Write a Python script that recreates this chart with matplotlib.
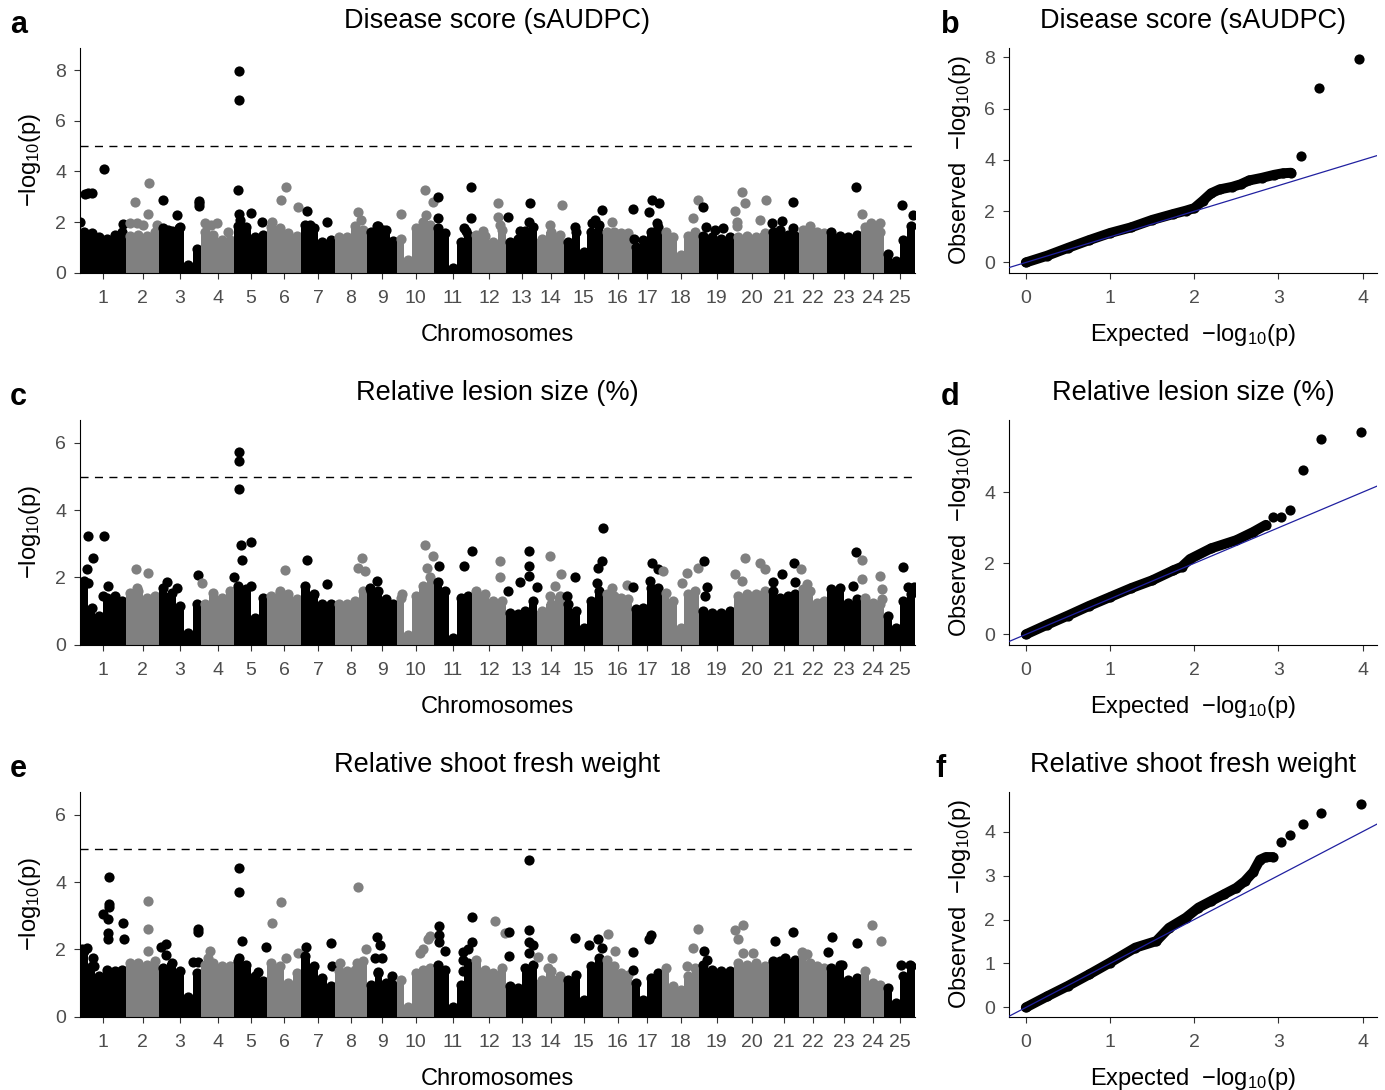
import numpy as np
import matplotlib.pyplot as plt

plt.rcParams['font.family'] = ['Liberation Sans', 'DejaVu Sans']
plt.rcParams['mathtext.fontset'] = 'custom'
plt.rcParams['mathtext.rm'] = 'Liberation Sans'
plt.rcParams['mathtext.it'] = 'Liberation Sans'

# =========================
# Data
# =========================
# chromosome lengths (Mb, read from the spacing of the colour blocks)
chr_len = [46, 33, 42, 33, 33, 34, 34, 32, 30, 37, 38, 34, 31, 27, 39,
           29, 30, 37, 35, 35, 30, 28, 34, 23, 31]
chr_names = [str(i) for i in range(1, 26)]

# dense background of each chromosome: -log10(p) top of the point mass,
# evenly spaced along the chromosome
a_cols = [
    [1.6, 1.55, 1.4, 1.35, 1.5, 1.6], [1.45, 1.5, 1.45, 1.6],
    [1.75, 1.65, 1.8, 0.3, 0.95], [1.6, 1.5, 1.3, 1.3],
    [1.85, 1.8, 1.4, 1.5], [1.8, 1.75, 1.55, 1.45], [1.9, 1.75, 1.2, 1.3],
    [1.4, 1.4, 1.85, 1.7], [1.6, 1.85, 1.7, 1.25],
    [1.35, 0.5, 1.75, 2.0, 1.9], [1.75, 1.55, 0.2, 1.2, 1.5],
    [1.5, 1.45, 1.2, 1.7], [1.2, 1.35, 1.65, 1.8], [1.35, 1.6, 1.5],
    [1.2, 1.6, 0.8, 1.6, 1.9], [1.6, 1.6, 1.55, 1.55], [1.0, 1.3, 1.6, 1.8],
    [1.6, 1.4, 0.7, 1.45, 1.6], [1.45, 1.4, 1.35, 1.4],
    [1.4, 1.45, 1.4, 1.55], [1.6, 1.7, 1.5, 1.45], [1.7, 1.85, 1.6, 1.55],
    [1.6, 1.45, 1.4, 1.5], [1.8, 1.75, 1.6], [0.75, 0.45, 1.3, 1.85],
]
c_cols = [
    [1.9, 1.1, 0.85, 1.4, 1.45, 1.3], [1.55, 1.6, 1.4, 1.45],
    [1.7, 1.55, 1.15, 0.35, 1.2], [1.2, 1.55, 1.4, 1.6],
    [1.75, 1.65, 0.8, 1.4], [1.45, 1.55, 1.5, 1.35], [1.75, 1.5, 1.2, 1.2],
    [1.2, 1.2, 1.3, 1.6], [1.6, 1.6, 1.35, 1.2],
    [1.4, 0.3, 1.45, 1.75, 2.0], [1.85, 1.6, 0.2, 1.4, 1.45],
    [1.6, 1.5, 1.3, 1.3], [0.95, 0.9, 1.0, 1.3], [1.0, 1.2, 1.45],
    [1.2, 1.0, 0.5, 1.3, 1.6], [1.5, 1.45, 1.4, 1.35], [1.05, 1.1, 1.7, 1.7],
    [1.55, 1.3, 0.5, 1.5, 1.6], [1.0, 0.95, 0.95, 1.0],
    [1.45, 1.5, 1.5, 1.6], [1.6, 1.4, 1.45, 1.5], [1.65, 1.6, 1.25, 1.3],
    [1.65, 1.7, 1.25, 1.35], [1.4, 1.25, 1.2], [0.85, 0.5, 1.3, 1.5],
]
e_cols = [
    [1.95, 1.5, 1.2, 1.4, 1.35, 1.4], [1.6, 1.6, 1.55, 1.65],
    [1.45, 1.6, 1.35, 0.6, 1.3], [1.55, 1.6, 1.5, 1.5],
    [1.65, 1.55, 1.2, 1.05], [1.6, 1.5, 1.0, 1.3], [1.8, 1.5, 1.15, 0.9],
    [1.35, 1.35, 1.4, 1.65], [0.95, 1.3, 1.0, 0.95],
    [1.1, 0.3, 1.3, 1.4, 1.45], [1.55, 1.4, 0.3, 0.95, 1.6],
    [1.7, 1.4, 1.3, 1.45], [0.9, 0.85, 1.45, 1.55], [1.1, 1.35, 1.2],
    [1.1, 1.25, 0.5, 1.5, 1.75], [1.7, 1.5, 1.3, 1.25], [1.0, 0.5, 1.15, 1.3],
    [1.45, 0.9, 0.8, 1.2, 1.45], [1.55, 1.4, 1.35, 1.35],
    [1.6, 1.55, 1.6, 1.5], [1.65, 1.65, 1.6, 1.7], [1.8, 1.6, 1.5, 1.45],
    [1.45, 1.55, 1.1, 1.15], [1.35, 1.0, 0.95], [0.85, 0.4, 1.2, 1.5],
]

# single markers standing above the mass: (genome position Mb, -log10 p)
a_hits = [
    (0, 2.0), (5, 3.1), (8, 3.15), (12, 3.15), (24, 4.1), (42.7, 1.92),
    (50, 1.95), (55, 2.8), (57, 1.95), (63, 1.9), (68.3, 2.3), (69, 3.53),
    (76.7, 1.88), (83.3, 2.87), (88, 1.7), (96.7, 2.28), (99, 1.75),
    (118.8, 2.85), (118.8, 2.75), (118.8, 2.62), (125, 1.95), (131, 1.9),
    (137, 1.95), (148, 1.6), (158.3, 3.25), (159.3, 7.95), (159.3, 6.8),
    (159, 2.3), (160, 2.1), (170.7, 2.37), (181.7, 2.0), (192, 2.0),
    (201, 2.87), (205.7, 3.4), (218.3, 2.6), (226.7, 2.43), (230, 1.9),
    (247.3, 2.0), (278, 2.4), (281, 2.08), (297, 1.85), (303, 1.7),
    (321, 2.3), (345, 3.26), (346, 2.28), (353, 2.8), (358, 3.0),
    (358, 2.15), (384, 1.75), (386, 1.65), (391.3, 3.4), (391.3, 2.15),
    (418, 2.75), (418, 2.2), (420, 1.9), (403, 1.65), (428.3, 2.2),
    (450, 2.74), (448.5, 2.0), (440, 1.65), (481.7, 2.67), (470, 1.9),
    (495, 1.8), (511.7, 1.95), (515, 2.1), (521.7, 2.47), (531.7, 2.0),
    (553.3, 2.5), (554, 1.35), (569.3, 2.4), (571.7, 2.87), (579.3, 2.74),
    (577, 1.97), (613.3, 2.15), (617.7, 2.87), (623.3, 2.6), (625.5, 1.8),
    (635, 1.7), (643, 1.78), (655, 2.45), (657, 2.0), (657, 1.85),
    (662.3, 3.17), (665, 2.76), (680, 2.08), (685.7, 2.87), (692, 1.95),
    (702, 2.04), (713.3, 2.8), (713.3, 1.78), (775.7, 3.39), (781.5, 2.3),
    (791, 1.97), (800, 1.97), (821.7, 2.67), (833.3, 2.28),
]
c_hits = [
    (7.7, 3.24), (24.3, 3.24), (12.7, 2.58), (7.3, 2.24), (8, 1.84),
    (23.3, 1.45), (28.3, 1.75), (55.7, 2.25), (68.3, 2.14), (57, 1.7),
    (86.7, 1.85), (96.7, 1.7), (118.3, 2.06), (122, 1.82), (159, 5.74),
    (159, 5.47), (159, 4.62), (161, 2.97), (171, 3.04), (161.7, 2.53),
    (154.3, 2.0), (170.7, 1.75), (205, 2.22), (200, 1.6), (226.7, 2.53),
    (247.3, 1.8), (233, 1.45), (281.7, 2.58), (278, 2.28), (285, 2.19),
    (296.7, 1.9), (290, 1.7), (321.7, 1.5), (345, 2.97), (352.7, 2.63),
    (346.7, 2.28), (359.3, 2.35), (384.3, 2.35), (391.5, 2.8), (420, 2.48),
    (420, 2.0), (428.3, 1.6), (440, 1.86), (449.3, 2.78), (449.3, 2.35),
    (449.3, 2.04), (456.5, 1.72), (470, 2.65), (481, 2.09), (475, 1.75),
    (470, 1.45), (495, 2.0), (486.7, 1.45), (521.7, 2.48), (518.3, 2.28),
    (516.7, 1.84), (522.8, 3.47), (531.7, 1.7), (546.7, 1.77), (553.3, 1.72),
    (571.7, 2.43), (578.3, 2.24), (570, 1.9), (582.5, 2.19), (606.7, 2.14),
    (617.7, 2.28), (602, 1.84), (624.3, 2.48), (626.7, 1.72), (625, 1.45),
    (654.5, 2.09), (665, 2.58), (662.3, 1.9), (680, 2.43), (685, 2.24),
    (692.7, 1.86), (701.7, 2.09), (714, 2.43), (715, 1.86), (720.5, 2.24),
    (727, 1.8), (776, 2.75), (773.3, 1.75), (781.5, 2.53), (782, 1.96),
    (800, 2.04), (801.7, 1.65), (801.7, 1.35), (822.7, 2.3), (828.3, 1.72),
    (834, 1.72),
]
e_hits = [
    (2, 2.0), (7.3, 2.03), (13.3, 1.75), (14, 1.5), (29.3, 4.16),
    (29.3, 3.35), (29.3, 3.25), (23.3, 3.06), (28.3, 2.9), (28.3, 2.5),
    (28.3, 2.3), (42.7, 2.8), (44.3, 2.3), (68.3, 3.45), (68.3, 2.62),
    (68.3, 1.96), (81, 2.08), (85.7, 2.15), (85.7, 1.83), (118.3, 2.62),
    (118.3, 2.52), (113.3, 1.64), (118, 1.64), (130, 1.96), (128.3, 1.74),
    (159, 4.43), (159, 3.72), (161.7, 2.25), (159, 1.75), (177.7, 1.34),
    (185.7, 2.08), (191.7, 2.8), (201, 3.4), (205.7, 1.75), (217.7, 1.88),
    (226, 2.08), (250.7, 2.2), (251.5, 1.5), (277.7, 3.87), (276.7, 1.6),
    (260, 1.6), (285.5, 2.0), (296.7, 2.37), (300, 2.13), (295, 1.74),
    (302, 1.74), (298, 1.34), (311.7, 1.2), (340, 1.9), (343, 2.0),
    (348, 2.3), (350, 2.4), (359, 2.7), (359.3, 2.42), (359, 2.23),
    (365, 1.96), (383.3, 1.93), (383.3, 1.7), (383.3, 1.35), (387.7, 2.0),
    (391.5, 2.96), (391.5, 2.23), (414.5, 2.85), (425, 2.5), (429, 2.52),
    (429, 1.8), (449.3, 4.66), (449.3, 2.57), (449.3, 2.23), (453.3, 2.13),
    (449.3, 1.88), (458.3, 1.78), (471.7, 1.75), (467.7, 1.45), (495, 2.35),
    (509.3, 2.13), (518.3, 2.3), (521.7, 2.03), (528.3, 2.47), (535, 1.96),
    (553.3, 1.93), (552.5, 1.39), (571, 2.42), (569, 2.3), (618.3, 2.62),
    (613.3, 2.03), (606.7, 1.5), (624, 1.95), (627, 1.7), (655, 2.57),
    (663.3, 2.72), (657.7, 2.3), (663.3, 1.88), (673.3, 1.88), (695, 2.25),
    (713.3, 2.52), (705, 1.75), (721.7, 1.93), (726.7, 1.85), (752.3, 2.37),
    (748.3, 1.93), (776.7, 2.2), (762, 1.55), (791.7, 2.74), (800.7, 2.25),
    (821, 1.55), (830, 1.55),
]

# QQ plots: dense part (expected, observed) and the separated tail points
b_band_exp = [0.0, 0.25, 0.5, 0.75, 1.0, 1.25, 1.5, 1.75, 1.9, 2.0, 2.1,
              2.2, 2.3, 2.45, 2.55, 2.65, 2.8, 2.95, 3.05, 3.15]
b_band_obs = [0.0, 0.26, 0.57, 0.87, 1.15, 1.37, 1.66, 1.89, 2.02, 2.12,
              2.4, 2.7, 2.85, 2.95, 3.05, 3.2, 3.3, 3.42, 3.48, 3.5]
b_tail_exp = [3.27, 3.48, 3.96]
b_tail_obs = [4.15, 6.82, 7.95]

d_band_exp = [0.0, 0.25, 0.5, 0.75, 1.0, 1.25, 1.5, 1.75, 1.85, 1.95, 2.2,
              2.5, 2.7, 2.85]
d_band_obs = [0.0, 0.27, 0.53, 0.8, 1.05, 1.3, 1.52, 1.8, 1.9, 2.12, 2.42,
              2.65, 2.88, 3.08]
d_tail_exp = [2.93, 3.03, 3.14, 3.29, 3.5, 3.98]
d_tail_obs = [3.3, 3.3, 3.51, 4.62, 5.49, 5.7]

f_band_exp = [0.0, 0.25, 0.5, 0.75, 1.0, 1.3, 1.55, 1.7, 1.9, 2.05, 2.2,
              2.35, 2.5, 2.6, 2.7, 2.78, 2.85, 2.93]
f_band_obs = [0.0, 0.25, 0.49, 0.75, 1.02, 1.36, 1.51, 1.81, 2.04, 2.27,
              2.42, 2.57, 2.72, 2.87, 3.08, 3.36, 3.42, 3.42]
f_tail_exp = [3.03, 3.14, 3.29, 3.5, 3.98]
f_tail_obs = [3.76, 3.92, 4.18, 4.42, 4.63]

titles = ["Disease score (sAUDPC)", "Relative lesion size (%)",
          "Relative shoot fresh weight"]
threshold = 5

# =========================
# Style
# =========================
W, H = 1385, 1090
colours = ['#000000', '#808080']
blue = '#2020a0'
ms = 54
tick_kw = dict(length=4, width=0.8, color='#333333', labelcolor='#4d4d4d',
               labelsize=14)
logp = r'$-\mathrm{log}_{10}(\mathrm{p})$'


def box(l, t, r, b):
    return [l / W, 1 - b / H, (r - l) / W, (b - t) / H]


def fx(x):
    return x / W


def fy(y):
    return 1 - y / H


def manhattan(ax, cols, hits, top, yticks):
    starts = np.concatenate([[0], np.cumsum(chr_len)[:-1]])
    ends = np.cumsum(chr_len)
    hx = np.array([p[0] for p in hits])
    hy = np.array([p[1] for p in hits])
    which = np.searchsorted(ends, hx, side='right')
    for k, (s, L, h) in enumerate(zip(starts, chr_len, cols)):
        c = colours[k % 2]
        w = L / len(h)
        xs = s + w * (np.arange(len(h)) + 0.5)
        ax.bar(xs, h, width=w, color=c, linewidth=0)
        ax.scatter(xs, h, s=ms, color=c, linewidths=0)
        sel = which == k
        ax.scatter(hx[sel], hy[sel], s=ms, color=c, linewidths=0)
    ax.axhline(threshold, color='black', lw=1, ls=(0, (5.8, 4.6)))
    ax.set_xlim(0, ends[-1])
    ax.set_ylim(0, top)
    ax.set_xticks(starts + np.array(chr_len) / 2)
    ax.set_xticklabels(chr_names)
    ax.set_yticks(yticks)
    ax.spines[['top', 'right']].set_visible(False)
    ax.tick_params(**tick_kw)
    ax.tick_params(axis='x', pad=8.5)
    ax.tick_params(axis='y', pad=6)


def qq(ax, bx, by, tx, ty, ylim, yticks):
    ax.plot(bx, by, color='black', lw=7.2, solid_capstyle='round')
    ax.scatter(bx, by, s=ms, color='black', linewidths=0)
    ax.scatter(tx, ty, s=ms, color='black', linewidths=0)
    ax.plot([-1, 6], [-1, 6], color=blue, lw=0.9, zorder=5)
    ax.set_xlim(-0.2, 4.17)
    ax.set_ylim(*ylim)
    ax.set_xticks([0, 1, 2, 3, 4])
    ax.set_yticks(yticks)
    ax.spines[['top', 'right']].set_visible(False)
    ax.tick_params(**tick_kw)
    ax.tick_params(axis='x', pad=8.5)
    ax.tick_params(axis='y', pad=6)


fig = plt.figure(figsize=(W / 100, H / 100), dpi=100)

rows = [
    (a_cols, a_hits, 8.87, [0, 2, 4, 6, 8],
     b_band_exp, b_band_obs, b_tail_exp, b_tail_obs, (-0.4, 8.37),
     [0, 2, 4, 6, 8], 'a', 'b'),
    (c_cols, c_hits, 6.68, [0, 2, 4, 6],
     d_band_exp, d_band_obs, d_tail_exp, d_tail_obs, (-0.29, 6.03),
     [0, 2, 4], 'c', 'd'),
    (e_cols, e_hits, 6.68, [0, 2, 4, 6],
     f_band_exp, f_band_obs, f_tail_exp, f_tail_obs, (-0.21, 4.9),
     [0, 1, 2, 3, 4], 'e', 'f'),
]
letter_x = {'a': 10, 'b': 941, 'c': 10, 'd': 941, 'e': 10, 'f': 935}

for i, (cols, hits, top, yt, bx, by, tx, ty, qlim, qyt, l1, l2) in enumerate(rows):
    dy = i * 372
    ax = fig.add_axes(box(80, 48 + dy, 915, 272.7 + dy))
    manhattan(ax, cols, hits, top, yt)
    ax2 = fig.add_axes(box(1009, 48 + dy, 1377, 272.7 + dy))
    qq(ax2, bx, by, tx, ty, qlim, qyt)

    fig.text(fx(497), fy(21 + dy), titles[i], ha='center', va='center',
             fontsize=19.5)
    fig.text(fx(1193), fy(21 + dy), titles[i], ha='center', va='center',
             fontsize=19.5)
    fig.text(fx(letter_x[l1]), fy(33 + dy), l1, fontsize=22,
             fontweight='bold', va='baseline')
    fig.text(fx(letter_x[l2]), fy(33 + dy), l2, fontsize=22,
             fontweight='bold', va='baseline')
    fig.text(fx(497), fy(341 + dy), "Chromosomes", ha='center',
             va='baseline', fontsize=17)
    fig.text(fx(1193), fy(341 + dy), "Expected  " + logp, ha='center',
             va='baseline', fontsize=17)
    fig.text(fx(30), fy(160 + dy), logp, ha='center', va='center',
             rotation=90, fontsize=17)
    fig.text(fx(960), fy(160 + dy), "Observed  " + logp, ha='center',
             va='center', rotation=90, fontsize=17)

fig.savefig('out.png', dpi=100)
